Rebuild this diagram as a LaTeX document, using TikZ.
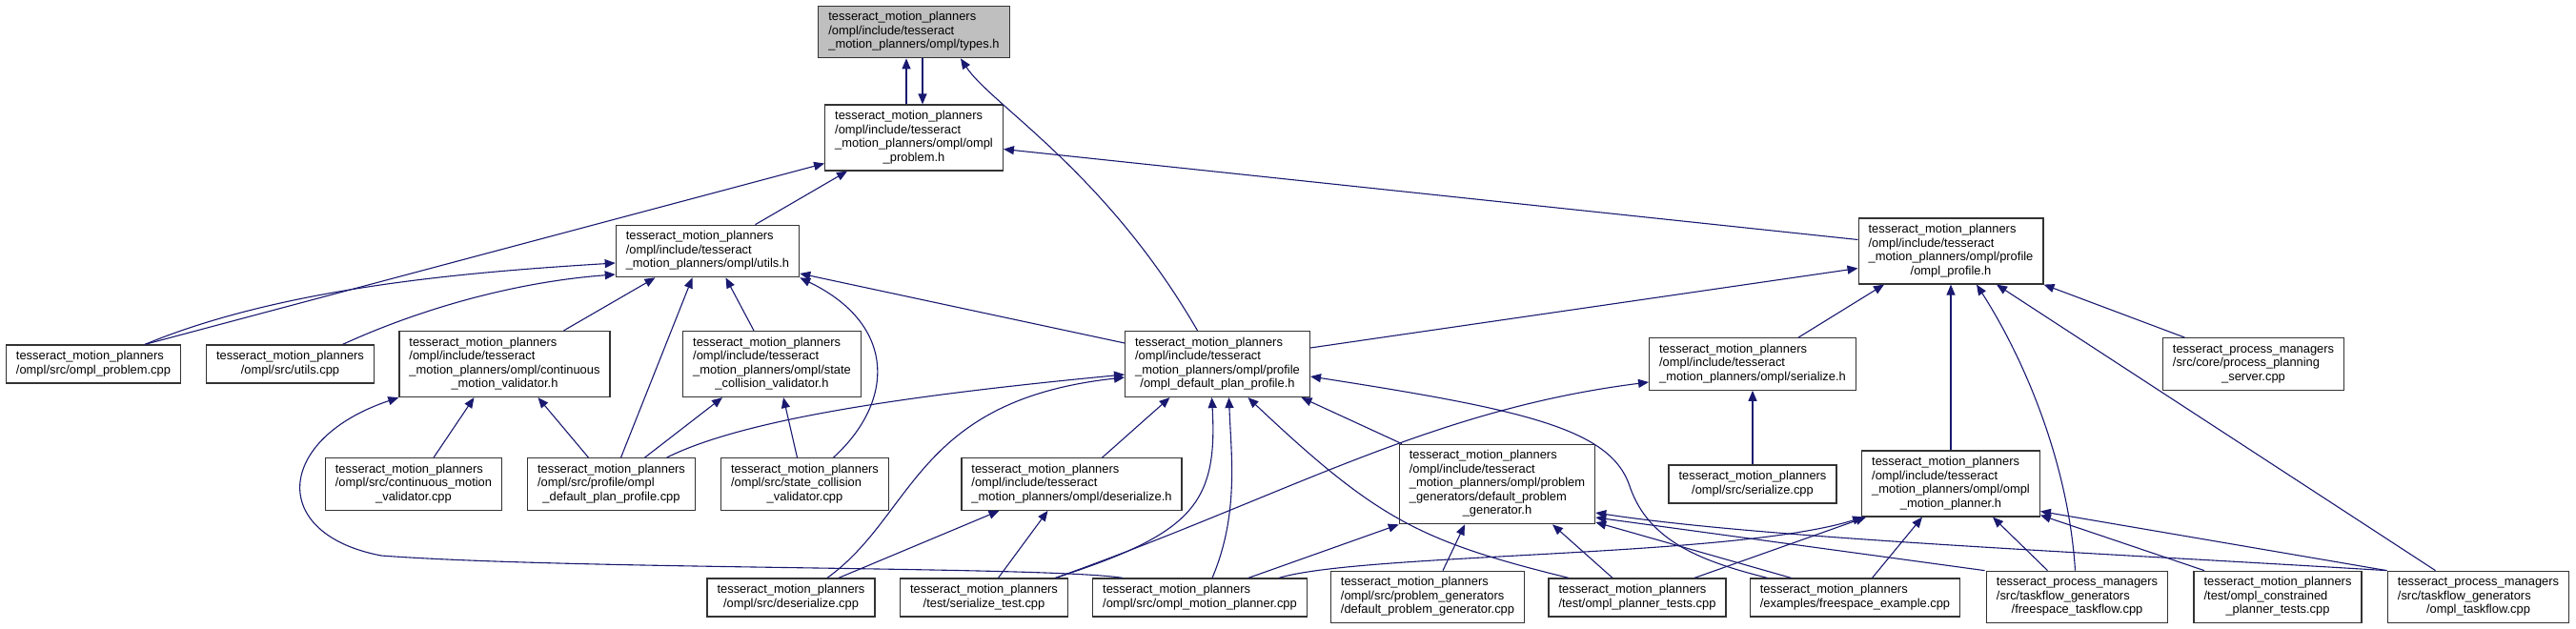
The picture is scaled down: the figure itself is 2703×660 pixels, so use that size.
\documentclass[tikz,border=0pt]{standalone}
\usepackage{fontspec}
\setmainfont{Liberation Sans}
\usepackage{tikz}
\usetikzlibrary{arrows.meta}
\definecolor{edgeblue}{HTML}{191970}
\definecolor{rootgray}{HTML}{BFBFBF}
\newcommand{\flines}[1]{\begin{tabular}{@{}l@{}}#1\end{tabular}}
\newcommand{\lastrow}[1]{\multicolumn{1}{@{}c@{}}{#1}}

\begin{document}
\begin{tikzpicture}[x=1pt,y=-1pt,>={Triangle[length=11pt,width=9pt]},
  font=\fontsize{12.9}{14.5}\selectfont,
  file/.style={draw=black!80,line width=1.2pt,fill=white,inner xsep=10.5pt,inner ysep=5.5pt},
  root/.style={file,fill=rootgray},
  dep/.style={->,draw=edgeblue,line width=1.1pt}]
\useasboundingbox (0,0) rectangle (2703,660);

\node[root] (types) at (959,33.5) {\flines{tesseract\_motion\_planners\\/ompl/include/tesseract\\\lastrow{\_motion\_planners/ompl/types.h}}};
\node[file] (omplproblemh) at (959,144.5) {\flines{tesseract\_motion\_planners\\/ompl/include/tesseract\\\_motion\_planners/ompl/ompl\\\lastrow{\_problem.h}}};
\node[file] (utilsh) at (742.5,263.5) {\flines{tesseract\_motion\_planners\\/ompl/include/tesseract\\\lastrow{\_motion\_planners/ompl/utils.h}}};
\node[file] (profileh) at (2047,263.5) {\flines{tesseract\_motion\_planners\\/ompl/include/tesseract\\\_motion\_planners/ompl/profile\\\lastrow{/ompl\_profile.h}}};

\node[file] (problemcpp) at (98,382) {\flines{tesseract\_motion\_planners\\\lastrow{/ompl/src/ompl\_problem.cpp}}};
\node[file] (utilscpp) at (304.5,382) {\flines{tesseract\_motion\_planners\\\lastrow{/ompl/src/utils.cpp}}};
\node[file] (cmvh) at (529.5,382) {\flines{tesseract\_motion\_planners\\/ompl/include/tesseract\\\_motion\_planners/ompl/continuous\\\lastrow{\_motion\_validator.h}}};
\node[file] (scvh) at (810,382) {\flines{tesseract\_motion\_planners\\/ompl/include/tesseract\\\_motion\_planners/ompl/state\\\lastrow{\_collision\_validator.h}}};
\node[file] (planprofileh) at (1277.5,382) {\flines{tesseract\_motion\_planners\\/ompl/include/tesseract\\\_motion\_planners/ompl/profile\\\lastrow{/ompl\_default\_plan\_profile.h}}};
\node[file] (serializeh) at (1839,382) {\flines{tesseract\_motion\_planners\\/ompl/include/tesseract\\\lastrow{\_motion\_planners/ompl/serialize.h}}};
\node[file] (serverc) at (2364.5,382) {\flines{tesseract\_process\_managers\\/src/core/process\_planning\\\lastrow{\_server.cpp}}};

\node[file] (cmvcpp) at (434,508) {\flines{tesseract\_motion\_planners\\/ompl/src/continuous\_motion\\\lastrow{\_validator.cpp}}};
\node[file] (planprofilecpp) at (641.5,508) {\flines{tesseract\_motion\_planners\\/ompl/src/profile/ompl\\\lastrow{\_default\_plan\_profile.cpp}}};
\node[file] (scvcpp) at (844.5,508) {\flines{tesseract\_motion\_planners\\/ompl/src/state\_collision\\\lastrow{\_validator.cpp}}};
\node[file] (deserializeh) at (1124.5,508) {\flines{tesseract\_motion\_planners\\/ompl/include/tesseract\\\lastrow{\_motion\_planners/ompl/deserialize.h}}};
\node[file] (generatorh) at (1571,508) {\flines{tesseract\_motion\_planners\\/ompl/include/tesseract\\\_motion\_planners/ompl/problem\\\_generators/default\_problem\\\lastrow{\_generator.h}}};
\node[file] (serializecpp) at (1839,508) {\flines{tesseract\_motion\_planners\\\lastrow{/ompl/src/serialize.cpp}}};
\node[file] (plannerh) at (2047,507.5) {\flines{tesseract\_motion\_planners\\/ompl/include/tesseract\\\_motion\_planners/ompl/ompl\\\lastrow{\_motion\_planner.h}}};

\node[file] (deserializecpp) at (830,627) {\flines{tesseract\_motion\_planners\\\lastrow{/ompl/src/deserialize.cpp}}};
\node[file] (serializetest) at (1032.5,627) {\flines{tesseract\_motion\_planners\\\lastrow{/test/serialize\_test.cpp}}};
\node[file] (plannercpp) at (1259,627) {\flines{tesseract\_motion\_planners\\\lastrow{/ompl/src/ompl\_motion\_planner.cpp}}};
\node[file] (generatorcpp) at (1498,626.5) {\flines{tesseract\_motion\_planners\\/ompl/src/problem\_generators\\\lastrow{/default\_problem\_generator.cpp}}};
\node[file] (plannertests) at (1718,627) {\flines{tesseract\_motion\_planners\\\lastrow{/test/ompl\_planner\_tests.cpp}}};
\node[file] (freespaceex) at (1946.5,627) {\flines{tesseract\_motion\_planners\\\lastrow{/examples/freespace\_example.cpp}}};
\node[file] (freespacetf) at (2179.5,626.5) {\flines{tesseract\_process\_managers\\/src/taskflow\_generators\\\lastrow{/freespace\_taskflow.cpp}}};
\node[file] (constrained) at (2390,626.5) {\flines{tesseract\_motion\_planners\\/test/ompl\_constrained\\\lastrow{\_planner\_tests.cpp}}};
\node[file] (ompltf) at (2600.5,626.5) {\flines{tesseract\_process\_managers\\/src/taskflow\_generators\\\lastrow{/ompl\_taskflow.cpp}}};

\draw[dep] ([xshift=-8]omplproblemh.north) -- ([xshift=-8]types.south);
\draw[dep] ([xshift=9]types.south) -- ([xshift=9]omplproblemh.north);
\draw[dep] ([xshift=-21]planprofileh.north) .. controls (1160,180) and (1040,110) .. ([xshift=49]types.south);
\draw[dep] ([xshift=50]utilsh.north) -- ([xshift=-70]omplproblemh.south);
\draw[dep] ([xshift=54]problemcpp.north) -- ([yshift=-27]omplproblemh.west);
\draw[dep] ([yshift=12]profileh.west) -- ([yshift=-12]omplproblemh.east);

\draw[dep] ([xshift=54]problemcpp.north) .. controls (300,300) and (500,285) .. ([yshift=-12.5]utilsh.west);
\draw[dep] ([xshift=55]utilscpp.north) .. controls (450,320) and (550,295) .. ([yshift=-24.5]utilsh.west);
\draw[dep] ([xshift=62]cmvh.north) -- ([xshift=-55]utilsh.south);
\draw[dep] ([xshift=10]planprofilecpp.north) -- ([xshift=-16]utilsh.south);
\draw[dep] ([xshift=-19]scvh.north) -- ([xshift=19]utilsh.south);
\draw[dep] ([xshift=30]scvcpp.north) .. controls (940,420) and (940,340) .. (utilsh.south east);
\draw[dep] ([yshift=22]planprofileh.west) -- ([yshift=-23.5]utilsh.east);

\draw[dep] ([xshift=21]cmvcpp.north) -- ([xshift=-32]cmvh.south);
\draw[dep] ([xshift=-24]planprofilecpp.north) -- ([xshift=35]cmvh.south);
\draw[dep] ([xshift=-81]plannercpp.north) .. controls (1100,594) and (600,598) .. (400,583) .. controls (280,560) and (290,460) .. (cmvh.south west);
\draw[dep] ([xshift=35]planprofilecpp.north) -- ([xshift=-52]scvh.south);
\draw[dep] ([xshift=-8]scvcpp.north) -- ([xshift=12]scvh.south);

\draw[dep] ([xshift=58]planprofilecpp.north) .. controls (780,440) and (950,415) .. ([yshift=-11]planprofileh.west);
\draw[dep] ([xshift=38]deserializecpp.north) .. controls (960,540) and (960,420) .. ([yshift=-14]planprofileh.west);
\draw[dep] ([xshift=50]deserializecpp.north) -- ([xshift=-76]deserializeh.south);
\draw[dep] ([xshift=15]serializetest.north) -- ([xshift=-25]deserializeh.south);
\draw[dep] ([xshift=32]deserializeh.north) -- ([xshift=-50]planprofileh.south);
\draw[dep] ([xshift=75]serializetest.north) .. controls (1250,560) and (1278,530) .. ([xshift=-6]planprofileh.south);
\draw[dep] ([xshift=13]plannercpp.north) .. controls (1300,540) and (1292,480) .. ([xshift=12]planprofileh.south);
\draw[dep] ([xshift=-72]plannertests.north) .. controls (1490,568) and (1445,545) .. ([xshift=32]planprofileh.south);
\draw[dep] ([xshift=-100]generatorh.north) -- ([xshift=88]planprofileh.south);
\draw[dep] ([xshift=-92]freespaceex.north) .. controls (1790,590) and (1730,570) .. (1710,510) .. controls (1690,450) and (1600,430) .. ([yshift=-13]planprofileh.east);

\draw[dep] ([yshift=17]planprofileh.east) -- ([yshift=-18]profileh.west);
\draw[dep] ([xshift=48]serializeh.north) -- ([xshift=-70]profileh.south);
\draw[dep] (plannerh.north) -- (profileh.south);
\draw[dep] ([xshift=-2]freespacetf.north) .. controls (2170,480) and (2120,370) .. ([xshift=27]profileh.south);
\draw[dep] ([xshift=-45]ompltf.north) -- ([xshift=48]profileh.south);
\draw[dep] ([xshift=-72]serverc.north) -- (profileh.south east);

\draw[dep] ([xshift=75]serializetest.north) .. controls (1350,520) and (1500,430) .. ([yshift=-19]serializeh.west);
\draw[dep] (serializecpp.north) -- (serializeh.south);

\draw[dep] ([xshift=51]plannercpp.north) -- (generatorh.south west);
\draw[dep] ([xshift=16]generatorcpp.north) -- ([xshift=-34]generatorh.south);
\draw[dep] ([xshift=-26]plannertests.north) -- ([xshift=58]generatorh.south);
\draw[dep] ([xshift=-67]freespaceex.north) -- ([yshift=-40]generatorh.east);
\draw[dep] ([xshift=-97]freespacetf.north) -- ([yshift=-35]generatorh.east);
\draw[dep] ([xshift=-96]ompltf.north) .. controls (2200,580) and (1850,565) .. ([yshift=-30]generatorh.east);

\draw[dep] ([xshift=83]plannercpp.north) .. controls (1430,580) and (1820,585) .. ([xshift=2]plannerh.south west);
\draw[dep] ([xshift=60]plannertests.north) -- ([xshift=5]plannerh.south west);
\draw[dep] ([xshift=18]freespaceex.north) -- ([xshift=-30]plannerh.south);
\draw[dep] ([xshift=-31]freespacetf.north) -- ([xshift=44]plannerh.south);
\draw[dep] ([xshift=-77]constrained.north) -- ([yshift=-33]plannerh.east);
\draw[dep] ([xshift=-96]ompltf.north) -- ([yshift=-29]plannerh.east);
\end{tikzpicture}
\end{document}
